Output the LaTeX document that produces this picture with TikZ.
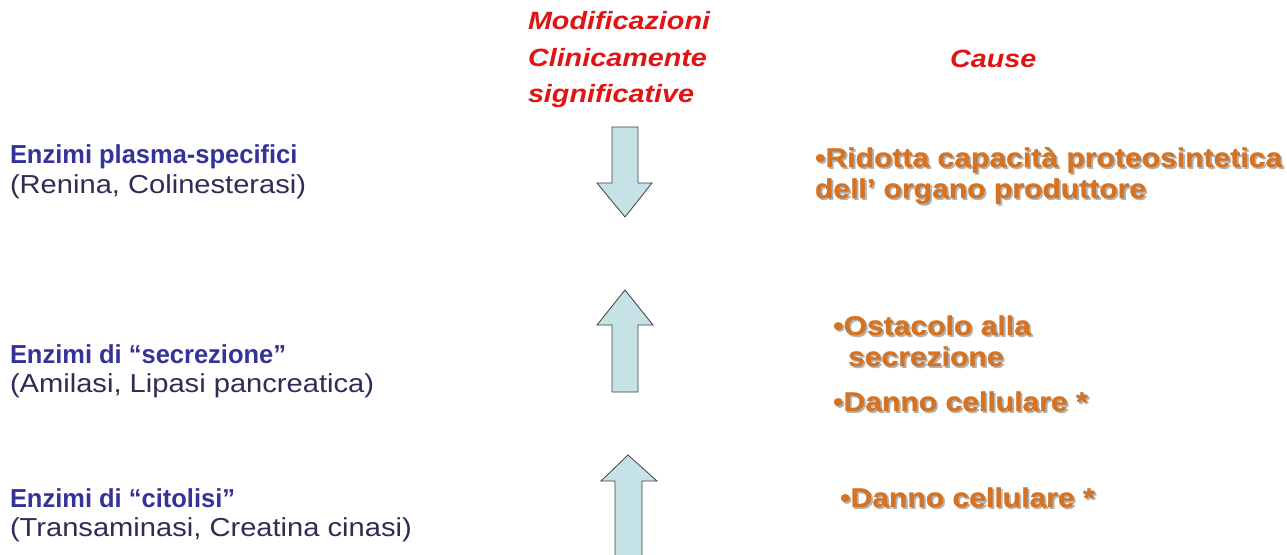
\documentclass[tikz,border=0pt]{standalone}
\usepackage{fontspec}
\setmainfont{Liberation Sans}
\newfontfamily\fBlue{Liberation Sans}[FakeStretch=0.98]
\newfontfamily\fReg{Liberation Sans}[FakeStretch=1.12]
\newfontfamily\fRed{Liberation Sans}[FakeStretch=1.15]
\newfontfamily\fOr{Liberation Sans}[FakeStretch=1.115,FakeBold=1.2]
\definecolor{eblue}{RGB}{51,51,153}
\definecolor{edark}{RGB}{45,45,85}
\definecolor{ered}{RGB}{225,20,20}
\definecolor{eorange}{RGB}{212,115,35}
\definecolor{arrowfill}{RGB}{197,226,230}
\newcommand\shadtext[1]{\makebox[0pt][l]{\hspace{1.8pt}\raisebox{-1.8pt}{\color{black!30}#1}}{\color{eorange}#1}}
\tikzset{
  lbl/.style={anchor=base west, inner sep=0pt, outer sep=0pt},
  titlebold/.style={lbl, text=eblue, font=\fBlue\bfseries\fontsize{26}{30}\selectfont},
  subreg/.style={lbl, text=edark, font=\fReg\fontsize{26}{30}\selectfont},
  redhead/.style={lbl, text=ered, font=\fRed\bfseries\itshape\fontsize{25}{30}\selectfont},
  causetext/.style={lbl, font=\fOr\bfseries\fontsize{27}{30}\selectfont},
  bigarrow/.style={fill=arrowfill, draw=black!75, line width=0.8pt, line join=miter}
}
\begin{document}
\begin{tikzpicture}[x=1pt,y=-1pt]
\useasboundingbox (0,0) rectangle (1287,554);
\fill[white] (0,0) rectangle (1287,554);
% headers
\node[redhead] (m1) at (528,29) {Modificazioni};
\node[redhead] (m2) at (528,66) {Clinicamente};
\node[redhead] (m3) at (528,102) {significative};
\node[redhead] (cause) at (950,67) {Cause};
% left column
\node[titlebold] (e1) at (10,163) {Enzimi plasma-specifici};
\node[subreg] (s1) at (10,193) {(Renina, Colinesterasi)};
\node[titlebold] (e2) at (10,363) {Enzimi di “secrezione”};
\node[subreg] (s2) at (10,392) {(Amilasi, Lipasi pancreatica)};
\node[titlebold] (e3) at (10,507) {Enzimi di “citolisi”};
\node[subreg] (s3) at (10,536) {(Transaminasi, Creatina cinasi)};
% arrows
\draw[bigarrow] (612,127) -- (638,127) -- (638,183) -- (652,183) -- (625,217) -- (597,183) -- (612,183) -- cycle;
\draw[bigarrow] (612,392) -- (638,392) -- (638,325) -- (653,325) -- (625,290) -- (597,325) -- (612,325) -- cycle;
\draw[bigarrow] (615,560) -- (642,560) -- (642,481) -- (657,481) -- (628,455) -- (601,481) -- (615,481) -- cycle;
% causes
\node[causetext] (c1) at (815,167) {\shadtext{•Ridotta capacità proteosintetica}};
\node[causetext] (c2) at (815,198) {\shadtext{dell’ organo produttore}};
\node[causetext] (c3) at (833,335) {\shadtext{•Ostacolo alla}};
\node[causetext] (c4) at (848,366) {\shadtext{secrezione}};
\node[causetext] (c5) at (833,411) {\shadtext{•Danno cellulare *}};
\node[causetext] (c6) at (840,507) {\shadtext{•Danno cellulare *}};
\end{tikzpicture}
\end{document}
